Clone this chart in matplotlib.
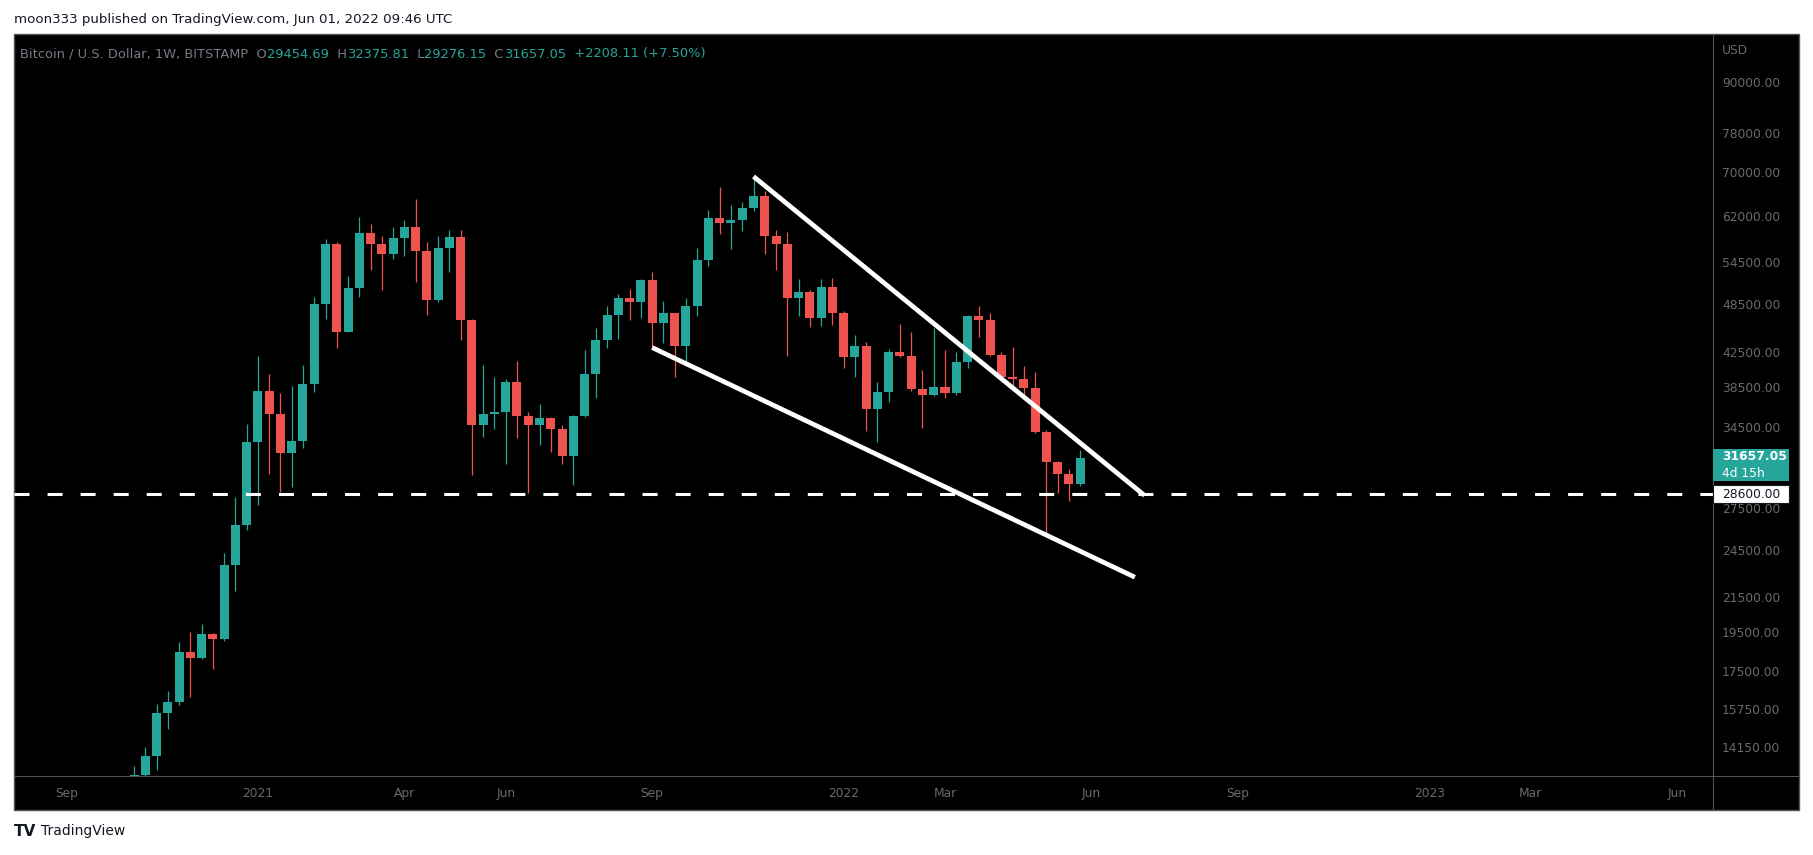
import numpy as np
import pandas as pd
import matplotlib
matplotlib.use("Agg")
import matplotlib.pyplot as plt
import matplotlib.dates as mdates
from matplotlib.patches import Rectangle
from matplotlib.lines import Line2D
from matplotlib.offsetbox import TextArea, HPacker, AnchoredOffsetbox
from matplotlib.ticker import NullLocator, FixedLocator, FixedFormatter

plt.rcParams['font.family'] = ['DejaVu Sans']
plt.rcParams['lines.scale_dashes'] = False

# weekly BTCUSD candles, Bitstamp
start_week = "2020-10-19"
opens = [11500, 13090, 13800, 15540, 16050, 18460, 18150, 19400, 19130, 23480, 26250,
         33070, 38070, 35720, 32060, 33160, 38800, 48600, 57420, 44960, 50810, 59110,
         57400, 55830, 58320, 60120, 56290, 49120, 56720, 58480, 46460, 34700, 35740,
         35900, 39070, 35580, 34700, 35340, 34310, 31820, 35540, 39950, 43910, 47070,
         49360, 48840, 51890, 46080, 47340, 43220, 48270, 54860, 61650, 60800, 61300,
         63400, 65550, 58650, 57360, 49360, 50190, 46680, 50890, 47340, 41920, 43180,
         36270, 37990, 42470, 42000, 38350, 37710, 38530, 37870, 41300, 46950, 46420,
         42120, 39650, 39390, 38420, 34030, 31300, 30270, 29454.69]
highs = [13440, 14140, 15970, 16530, 18970, 19500, 19930, 19450, 24290, 28380, 34760,
         41980, 39960, 37870, 38600, 40910, 49550, 58200, 57600, 52530, 61800, 60630,
         58650, 60120, 61260, 65000, 57660, 58650, 59620, 59620, 46600, 40960, 39620,
         39400, 41420, 35900, 36750, 35400, 34700, 35600, 42700, 45400, 48270, 49910,
         50600, 52000, 53050, 48940, 47400, 49360, 56720, 63040, 67200, 63930, 64460,
         69160, 66400, 59620, 59300, 52030, 50400, 52030, 52170, 47600, 44520, 43670,
         39070, 42830, 45910, 44900, 40400, 45400, 42700, 42470, 47100, 48270, 47340,
         42470, 43070, 40840, 40170, 34200, 31400, 30670, 32375.81]
lows = [11400, 12950, 13280, 14870, 15900, 16250, 18100, 17600, 19000, 21870, 25900,
        27750, 30260, 28790, 29160, 32560, 38000, 46500, 42900, 44900, 49470, 53380,
        50510, 55050, 55510, 51640, 47110, 48800, 53100, 43950, 30190, 33550, 34310,
        31130, 33460, 28710, 32810, 32190, 31130, 29360, 35400, 37400, 43000, 44040,
        46460, 46720, 43100, 43580, 39650, 40840, 47000, 53900, 59000, 56600, 59400,
        62800, 55780, 53350, 42000, 46950, 45570, 45600, 45780, 40650, 39650, 34120,
        33090, 37000, 41900, 38100, 34400, 37600, 37400, 37700, 40600, 44280, 42000,
        39250, 38660, 37480, 33900, 25600, 28710, 28080, 29276.15]
closes = [13090, 13800, 15540, 16050, 18460, 18150, 19400, 19130, 23480, 26250, 33070,
          38070, 35720, 32060, 33160, 38800, 48600, 57420, 44960, 50810, 59110, 57400,
          55830, 58320, 60120, 56290, 49120, 56720, 58480, 46460, 34700, 35740, 35900,
          39070, 35580, 34700, 35340, 34310, 31820, 35540, 39950, 43910, 47070, 49360,
          48840, 51890, 46080, 47340, 43220, 48270, 54860, 61650, 60800, 61300, 63400,
          65550, 58650, 57360, 49360, 50190, 46680, 50890, 47340, 41920, 43180, 36270,
          37990, 42470, 42000, 38350, 37710, 38530, 37870, 41300, 46950, 46420, 42120,
          39650, 39390, 38420, 34030, 31300, 30270, 29454.69, 31657.05]

# drawings
support_level = 28600
upper_line_dates = ["2021-11-08", "2022-07-09"]
upper_line_prices = [69200, 28500]
lower_line_dates = ["2021-09-06", "2022-07-03"]
lower_line_prices = [43000, 22700]

price_ticks = [90000, 78000, 70000, 62000, 54500, 48500, 42500, 38500, 34500,
               27500, 24500, 21500, 19500, 17500, 15750, 14150]
time_tick_dates = ["2020-09-07", "2021-01-04", "2021-04-05", "2021-06-07", "2021-09-06",
                   "2022-01-03", "2022-03-07", "2022-06-06", "2022-09-05", "2023-01-02",
                   "2023-03-06", "2023-06-05"]
time_tick_labels = ["Sep", "2021", "Apr", "Jun", "Sep", "2022", "Mar", "Jun", "Sep",
                    "2023", "Mar", "Jun"]

UP = "#26a69a"
DOWN = "#ef5350"
FRAME = "#50535e"
AXTXT = "#6a6a6a"

W, H = 1813, 855
def fx(x):
    return x / W
def fy(y):
    return 1 - y / H

fig = plt.figure(figsize=(W / 100, H / 100), dpi=100, facecolor="white")

# chart frame (black panel)
fig.add_artist(Rectangle((fx(14), fy(810)), fx(1799) - fx(14), fy(34) - fy(810),
                         transform=fig.transFigure, facecolor="black",
                         edgecolor=FRAME, lw=1, zorder=-5))

ax = fig.add_axes([fx(14), fy(776), fx(1713) - fx(14), fy(34) - fy(776)])
ax.set_facecolor("none")
for s in ax.spines.values():
    s.set_visible(False)

dates = pd.date_range(start_week, periods=len(opens), freq="7D")
x = mdates.date2num(dates)
o = np.array(opens); h = np.array(highs); l = np.array(lows); c = np.array(closes)
cols = np.where(c >= o, UP, DOWN)

ax.set_yscale("log")
ax.vlines(x, l, h, colors=cols, lw=0.9, zorder=2)
body_lo = np.minimum(o, c)
body_h = np.maximum(np.abs(c - o), body_lo * 0.003)
ax.bar(x, body_h, bottom=body_lo, width=5.6, color=cols, linewidth=0, zorder=3)

# trend lines and support
ax.plot(mdates.date2num(pd.to_datetime(upper_line_dates)), upper_line_prices,
        color="white", lw=3.4, solid_capstyle="butt", zorder=4)
ax.plot(mdates.date2num(pd.to_datetime(lower_line_dates)), lower_line_prices,
        color="white", lw=3.4, solid_capstyle="butt", zorder=4)
ax.axhline(support_level, color="white", lw=2.2, linestyle=(0, (10.8, 13)),
           dash_capstyle="butt", zorder=4)

x0 = mdates.date2num(pd.Timestamp("2021-01-04"))
ax.set_xlim(x0 - 151.6, x0 + 904.3)
ax.set_ylim(13058, 102860)

ax.yaxis.tick_right()
ax.yaxis.set_minor_locator(NullLocator())
ax.yaxis.set_major_locator(FixedLocator(price_ticks))
ax.yaxis.set_major_formatter(FixedFormatter(["%.2f" % p for p in price_ticks]))
ax.xaxis.set_minor_locator(NullLocator())
ax.xaxis.set_major_locator(FixedLocator(mdates.date2num(pd.to_datetime(time_tick_dates))))
ax.xaxis.set_major_formatter(FixedFormatter(time_tick_labels))
ax.tick_params(axis="y", length=0, pad=6.5, labelsize=8.8, labelcolor=AXTXT)
ax.tick_params(axis="x", length=0, pad=8, labelsize=8.8, labelcolor=AXTXT)

# separators
fig.add_artist(Line2D([fx(1713), fx(1713)], [fy(34), fy(810)], color=FRAME, lw=0.8))
fig.add_artist(Line2D([fx(14), fx(1799)], [fy(776), fy(776)], color=FRAME, lw=0.8))

fig.text(fx(1722), fy(50), "USD", color=AXTXT, fontsize=8.8, va="center", ha="left")

# last price / support labels on the price scale
fig.add_artist(Rectangle((fx(1713), fy(481)), fx(1789) - fx(1713), fy(449) - fy(481),
                         transform=fig.transFigure, facecolor=UP, edgecolor="none", zorder=5))
fig.text(fx(1722), fy(457), "31657.05", color="white", fontsize=8.8, va="center",
         ha="left", fontweight="semibold", zorder=6)
fig.text(fx(1722), fy(473), "4d 15h", color="white", fontsize=8.8, va="center",
         ha="left", zorder=6)
fig.add_artist(Rectangle((fx(1713), fy(503)), fx(1789) - fx(1713), fy(485) - fy(503),
                         transform=fig.transFigure, facecolor="white", edgecolor="#131722",
                         lw=0.8, zorder=5))
fig.text(fx(1722), fy(494), "28600.00", color="#131722", fontsize=8.8, va="center",
         ha="left", zorder=6)

# header legend
GRAY = "#787b86"
parts = [("Bitcoin / U.S. Dollar, 1W, BITSTAMP  O", GRAY), ("29454.69", UP),
         ("  H", GRAY), ("32375.81", UP), ("  L", GRAY), ("29276.15", UP),
         ("  C", GRAY), ("31657.05", UP), ("  +2208.11 (+7.50%)", UP)]
boxes = [TextArea(t, textprops=dict(color=col, fontsize=9.4)) for t, col in parts]
pack = HPacker(children=boxes, align="baseline", pad=0, sep=0)
anch = AnchoredOffsetbox(loc="center left", child=pack, frameon=False, pad=0,
                         bbox_to_anchor=(fx(20), fy(54)), bbox_transform=fig.transFigure,
                         borderpad=0)
fig.add_artist(anch)

fig.text(fx(14), fy(19), "moon333 published on TradingView.com, Jun 01, 2022 09:46 UTC",
         color="#131722", fontsize=9.6, va="center", ha="left")
fig.text(fx(14), fy(831), "TV", color="#131722", fontsize=11, fontweight="heavy",
         va="center", ha="left")
fig.text(fx(41), fy(831), "TradingView", color="#131722", fontsize=10,
         va="center", ha="left")

fig.savefig("out.png", dpi=100, facecolor="white")
